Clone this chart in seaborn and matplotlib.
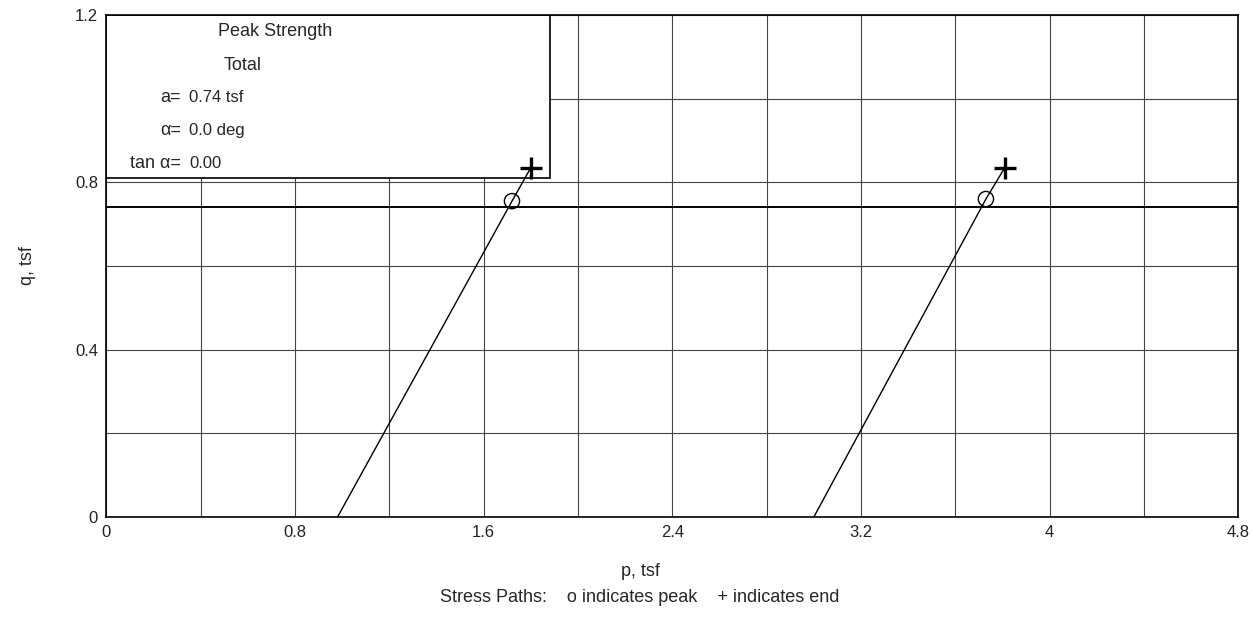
import matplotlib
matplotlib.use('Agg')
import matplotlib.pyplot as plt
from matplotlib.patches import Rectangle
from matplotlib.ticker import MultipleLocator
import seaborn as sns
import pandas as pd

# Stress path data (p, q in tsf)
p_start = [0.98, 3.00]
p_peak = [1.72, 3.73]
q_peak = [0.755, 0.76]
p_end = [1.80, 3.81]
q_end = [0.835, 0.835]
test_id = ['1', '2']

# Peak strength parameters
a_value = 0.74
alpha_deg = 0.0
tan_alpha = 0.00

x_ticks = [0, 0.8, 1.6, 2.4, 3.2, 4, 4.8]
x_tick_labels = ['0', '0.8', '1.6', '2.4', '3.2', '4', '4.8']
y_ticks = [0, 0.4, 0.8, 1.2]
y_tick_labels = ['0', '0.4', '0.8', '1.2']

rows = []
for i in range(len(test_id)):
    rows.append({'test': test_id[i], 'p': p_start[i], 'q': 0.0})
    rows.append({'test': test_id[i], 'p': p_peak[i], 'q': q_peak[i]})
    rows.append({'test': test_id[i], 'p': p_end[i], 'q': q_end[i]})
paths_df = pd.DataFrame(rows)
peak_df = pd.DataFrame({'p': p_peak, 'q': q_peak})
end_df = pd.DataFrame({'p': p_end, 'q': q_end})

sns.set_style('white')
plt.rcParams['font.family'] = ['Liberation Sans', 'DejaVu Sans']

fig = plt.figure(figsize=(12.52, 6.2), dpi=100)
ax = fig.add_axes([0.085, 0.166, 0.904, 0.810])

# Grid at 0.4 / 0.2 steps
ax.set_xlim(0, 4.8)
ax.set_ylim(0, 1.2)
ax.set_xticks(x_ticks)
ax.set_xticklabels(x_tick_labels)
ax.set_yticks(y_ticks)
ax.set_yticklabels(y_tick_labels)
ax.xaxis.set_minor_locator(MultipleLocator(0.4))
ax.yaxis.set_minor_locator(MultipleLocator(0.2))
ax.grid(which='both', color='#444444', lw=0.8, zorder=0.5)
ax.set_axisbelow(True)

# Parameter box (covers grid)
ax.add_patch(Rectangle((0, 0.81), 1.88, 0.39, facecolor='white', edgecolor='black',
                       lw=1.2, zorder=1))

# Failure line
ax.axhline(a_value, color='black', lw=1.4, zorder=2)

sns.lineplot(data=paths_df, x='p', y='q', units='test', estimator=None, sort=False,
             color='black', lw=1.0, ax=ax, zorder=3)
sns.scatterplot(data=peak_df, x='p', y='q', marker='o', s=120, facecolor='none',
                edgecolor='black', linewidth=1.0, ax=ax, zorder=4)
sns.scatterplot(data=end_df, x='p', y='q', marker='+', s=240, color='black',
                linewidth=2.4, ax=ax, zorder=4)

ax.tick_params(which='both', length=0, labelsize=12, colors='#222222', pad=6)
ax.set_xlabel('')
ax.set_ylabel('q, tsf', fontsize=13, labelpad=28)
for s in ax.spines.values():
    s.set_color('black')
    s.set_linewidth(1.2)

# Box text
fs = 13
ax.text(0.149, 0.966, 'Peak Strength', transform=ax.transAxes, ha='center', va='center',
        fontsize=fs)
ax.text(0.120, 0.900, 'Total', transform=ax.transAxes, ha='center', va='center', fontsize=fs)
labels = ['a=', '\u03b1=', 'tan \u03b1=']
values = [f'{a_value:.2f} tsf', f'{alpha_deg:.1f} deg', f'{tan_alpha:.2f}']
ys = [0.835, 0.769, 0.705]
for lab, val, y in zip(labels, values, ys):
    ax.text(0.066, y, lab, transform=ax.transAxes, ha='right', va='center', fontsize=fs)
    ax.text(0.073, y, val, transform=ax.transAxes, ha='left', va='center', fontsize=fs - 1)

fig.text(640 / 1252, 1 - 572 / 620, 'p, tsf', ha='center', va='center', fontsize=13)
fig.text(640 / 1252, 1 - 597 / 620, 'Stress Paths:    o indicates peak    + indicates end',
         ha='center', va='center', fontsize=13)

fig.savefig('out.png', dpi=100)
